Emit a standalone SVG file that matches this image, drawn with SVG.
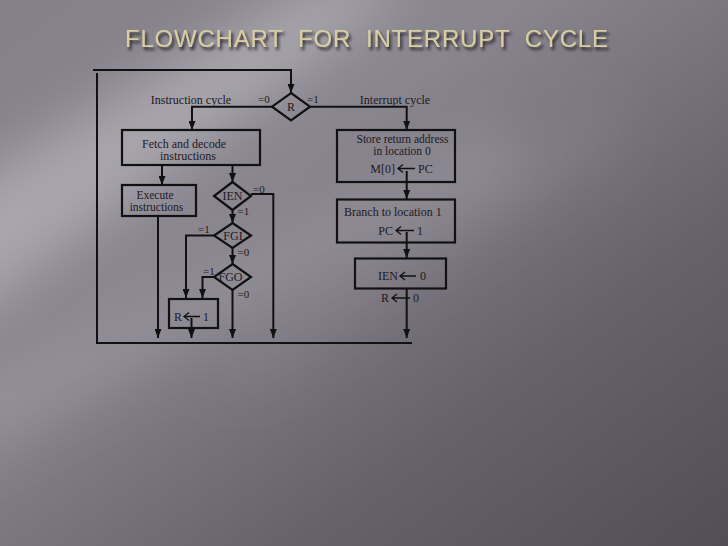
<svg xmlns="http://www.w3.org/2000/svg" width="728" height="546" viewBox="0 0 728 546">
<defs>
  <linearGradient id="bg" x1="0" y1="0" x2="1" y2="1">
    <stop offset="0" stop-color="#85818a"/>
    <stop offset="0.35" stop-color="#8a8690"/>
    <stop offset="0.7" stop-color="#66626b"/>
    <stop offset="1" stop-color="#524e56"/>
  </linearGradient>
  <filter id="blur" x="-50%" y="-50%" width="200%" height="200%">
    <feGaussianBlur stdDeviation="28"/>
  </filter>
  <filter id="shadow" x="-10%" y="-50%" width="120%" height="200%">
    <feDropShadow dx="2" dy="3" stdDeviation="1.6" flood-color="#1a181c" flood-opacity="0.9"/>
  </filter>
  <marker id="arr" viewBox="0 0 10 10" refX="10" refY="5" markerUnits="userSpaceOnUse" markerWidth="9" markerHeight="7" orient="auto" preserveAspectRatio="none">
    <path d="M0,0 L10,5 L0,10 z" fill="#111"/>
  </marker>
  <style>
    .ln{fill:none;stroke:#111;stroke-width:2}
    .box{fill:none;stroke:#111;stroke-width:2.2}
    .t{font-family:"Liberation Serif","DejaVu Serif",serif;font-size:12px;fill:#1c1a1e}
    .b{font-family:"Liberation Serif","DejaVu Serif",serif;font-size:11.5px;fill:#1c1a1e}
    .s{font-family:"Liberation Serif","DejaVu Serif",serif;font-size:11px;fill:#1c1a1e}
    .m{text-anchor:middle}
    .e{text-anchor:end}
    .ia{fill:none;stroke:#111;stroke-width:1.3}
  </style>
</defs>

<rect width="728" height="546" fill="url(#bg)"/>
<g filter="url(#blur)" fill="#ffffff">
  <polygon points="-60,340 -60,200 320,-20 420,-20" opacity="0.28"/>
  <polygon points="-60,470 -60,420 500,120 520,170" opacity="0.14"/>
  <polygon points="200,380 260,380 620,140 600,110" opacity="0.09"/>
</g>

<text x="125" y="47" textLength="483" lengthAdjust="spacing" filter="url(#shadow)" font-family="'Liberation Sans','DejaVu Sans',sans-serif" font-size="24" fill="#d8cea0" xml:space="preserve">FLOWCHART  FOR  INTERRUPT  CYCLE</text>

<g id="connectors">
  <path class="ln" d="M93,70 H291 V93" marker-end="url(#arr)"/>
  <path class="ln" d="M97,73 V343 H412"/>
  <path class="ln" d="M272,106.7 H192 V130" marker-end="url(#arr)"/>
  <path class="ln" d="M310,106.7 H406.7 V130" marker-end="url(#arr)"/>
  <path class="ln" d="M162,165 V185" marker-end="url(#arr)"/>
  <path class="ln" d="M232.5,165 V182" marker-end="url(#arr)"/>
  <path class="ln" d="M251,194 H273.3 V338" marker-end="url(#arr)"/>
  <path class="ln" d="M232.5,210 V223" marker-end="url(#arr)"/>
  <path class="ln" d="M214.5,235.5 H186 V298" marker-end="url(#arr)"/>
  <path class="ln" d="M232.5,248 V264" marker-end="url(#arr)"/>
  <path class="ln" d="M214.5,277 H202.5 V298" marker-end="url(#arr)"/>
  <path class="ln" d="M232.5,290 V338" marker-end="url(#arr)"/>
  <path class="ln" d="M191.5,318 V338" marker-end="url(#arr)"/>
  <path class="ln" d="M158,216 V338" marker-end="url(#arr)"/>
  <path class="ln" d="M406.7,171 V199" marker-end="url(#arr)"/>
  <path class="ln" d="M406.7,232 V258" marker-end="url(#arr)"/>
  <path class="ln" d="M406.7,288.5 V338" marker-end="url(#arr)"/>
  <text class="t" x="191" y="104" text-anchor="middle">Instruction cycle</text>
  <text class="s" x="258" y="103">=0</text>
  <text class="s" x="307" y="103">=1</text>
  <text class="t" x="395" y="104" text-anchor="middle">Interrupt cycle</text>
  <text class="s" x="253" y="192.5">=0</text>
  <text class="s" x="237.5" y="214.5">=1</text>
  <text class="s" x="198" y="233">=1</text>
  <text class="s" x="237.5" y="256">=0</text>
  <text class="s" x="203" y="275">=1</text>
  <text class="s" x="237.5" y="297.5">=0</text>
</g>

<g id="R">
  <polygon class="box" points="291,93 310,106.7 291,120.4 272,106.7"/>
  <text class="t m" x="291" y="111">R</text>
</g>
<g id="fetch">
  <rect class="box" x="122" y="130" width="138" height="35"/>
  <text class="t m" x="184" y="147.5">Fetch and decode</text>
  <text class="t m" x="188" y="160">instructions</text>
</g>
<g id="execute">
  <rect class="box" x="122" y="185" width="74" height="31"/>
  <text class="b m" x="155" y="198.5">Execute</text>
  <text class="b m" x="156.5" y="211">instructions</text>
</g>
<g id="IEN">
  <polygon class="box" points="232.5,182 251,196 232.5,210 214,196"/>
  <text class="t m" x="232.5" y="200">IEN</text>
</g>
<g id="FGI">
  <polygon class="box" points="232.5,223 251,235.5 232.5,248 214,235.5"/>
  <text class="t m" x="233" y="240">FGI</text>
</g>
<g id="FGO">
  <polygon class="box" points="232.5,264 251,277 232.5,290 214,277"/>
  <text class="t m" x="230.5" y="281">FGO</text>
</g>
<g id="setR">
  <rect class="box" x="169" y="299" width="49" height="29"/>
  <text class="t" x="174" y="320.5">R</text>
  <path class="ia" d="M200,316.5 H184 M189,312.5 L184,316.5 L189,320.5"/>
  <text class="t" x="203" y="320.5">1</text>
</g>
<g id="store">
  <rect class="box" x="337" y="130" width="118" height="52"/>
  <text class="b m" x="402.5" y="143">Store return address</text>
  <text class="b m" x="402" y="155">in location 0</text>
  <text class="t e" x="395" y="172.5">M[0]</text>
  <path class="ia" d="M415,168.5 H398 M403,164.5 L398,168.5 L403,172.5"/>
  <text class="t" x="418" y="172.5">PC</text>
</g>
<g id="branch">
  <rect class="box" x="337" y="199.5" width="118" height="43"/>
  <text class="t" x="344" y="216">Branch to location 1</text>
  <text class="t e" x="393" y="234.5">PC</text>
  <path class="ia" d="M414,230.5 H396 M401,226.5 L396,230.5 L401,234.5"/>
  <text class="t" x="417" y="234.5">1</text>
</g>
<g id="clear">
  <rect class="box" x="355" y="258.5" width="91" height="30"/>
  <text class="t e" x="398" y="280">IEN</text>
  <path class="ia" d="M416,276 H400 M405,272 L400,276 L405,280"/>
  <text class="t" x="420" y="280">0</text>
  <text class="t e" x="389" y="302">R</text>
  <path class="ia" d="M410,298 H392 M397,294 L392,298 L397,302"/>
  <text class="t" x="413" y="302">0</text>
</g>
</svg>
